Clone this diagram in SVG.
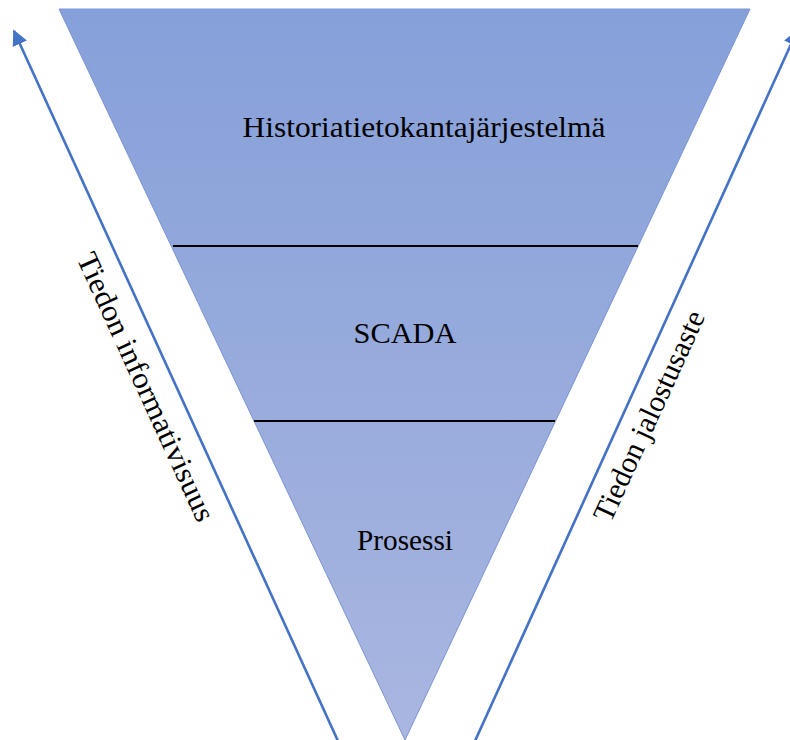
<svg xmlns="http://www.w3.org/2000/svg" width="790" height="740" viewBox="0 0 790 740">
<defs>
<linearGradient id="g" x1="0" y1="9" x2="0" y2="740" gradientUnits="userSpaceOnUse">
<stop offset="0" stop-color="#86A0D9"/>
<stop offset="1" stop-color="#A9B6E0"/>
</linearGradient>
<marker id="ah" viewBox="0 0 10 10" refX="9" refY="5" markerWidth="6" markerHeight="6" orient="auto" markerUnits="strokeWidth">
<path d="M0,0 L10,5 L0,10 z" fill="#4472C4"/>
</marker>
</defs>
<style>
.lbl{font-family:"Liberation Serif","Times New Roman",serif;font-size:30px;fill:#000;text-anchor:middle}
.arr{stroke:#4472C4;stroke-width:2.6;fill:none;marker-end:url(#ah)}
.div{stroke:#000;stroke-width:2}
</style>
<rect width="790" height="740" fill="#fff"/>
<g id="pyramid">
<polygon points="59,9 750,9 405,740" fill="url(#g)" stroke="#7A94D4" stroke-width="1"/>
<line class="div" x1="173" y1="246" x2="638" y2="246"/>
<line class="div" x1="254" y1="421" x2="555" y2="421"/>
</g>
<g id="historia"><text class="lbl" x="424" y="137" textLength="363" lengthAdjust="spacingAndGlyphs">Historiatietokantajärjestelmä</text></g>
<g id="scada"><text class="lbl" x="405" y="343" textLength="103" lengthAdjust="spacingAndGlyphs">SCADA</text></g>
<g id="prosessi"><text class="lbl" x="405" y="550" textLength="96" lengthAdjust="spacingAndGlyphs">Prosessi</text></g>
<g id="connectors">
<line class="arr" x1="338" y1="741" x2="14" y2="31"/>
<line class="arr" x1="475" y1="741" x2="797" y2="31"/>
</g>
<g id="left-label"><text class="lbl" transform="translate(137,391) rotate(65.4)" textLength="292" lengthAdjust="spacingAndGlyphs">Tiedon informativisuus</text></g>
<g id="right-label"><text class="lbl" transform="translate(658,420) rotate(-65.4)" textLength="228" lengthAdjust="spacingAndGlyphs">Tiedon jalostusaste</text></g>
</svg>
